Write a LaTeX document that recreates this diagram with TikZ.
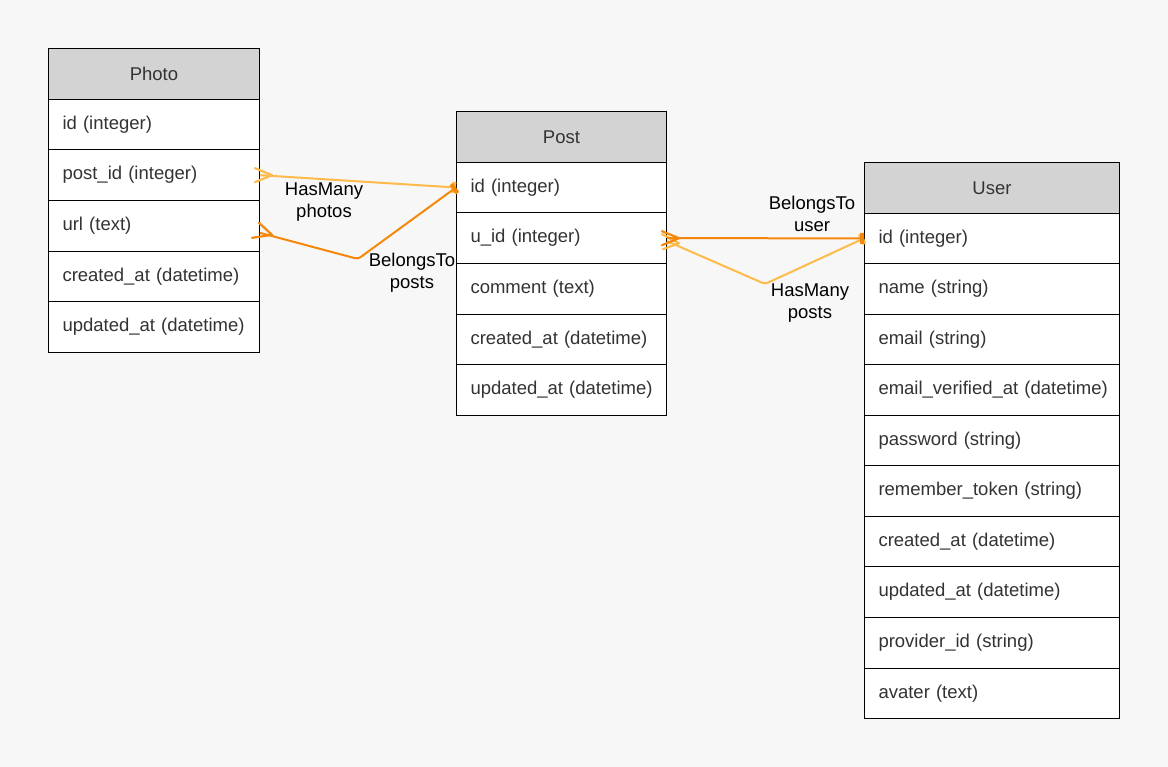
\documentclass[tikz,border=0pt]{standalone}
\usepackage{fontspec}
\setmainfont{Liberation Sans}
\usetikzlibrary{arrows.meta,calc}
\definecolor{bg}{HTML}{F7F7F7}
\definecolor{hdrfill}{HTML}{D3D3D3}
\definecolor{txt}{HTML}{333333}
\definecolor{lightor}{HTML}{FCBB4A}
\definecolor{darkor}{HTML}{F5870A}
\tikzset{
  fld/.style={draw=black, fill=white, line width=1pt, minimum height=50.67pt,
    anchor=north west, inner xsep=14pt, inner ysep=0pt, align=left, text=txt,
    font=\fontsize{18.5}{20}\selectfont},
  hdr/.style={fld, fill=hdrfill, align=center},
  lbl/.style={align=center, text=black, font=\fontsize{18.5}{22}\selectfont, inner sep=0pt},
  lo/.style={draw=lightor, line width=2pt, rounded corners=3pt},
  dk/.style={draw=darkor, line width=2pt, rounded corners=3pt},
  sq/.style={-{Rectangle[length=4pt,width=11pt]}},
  crow/.style={line width=2.2pt, rounded corners=0pt, line join=round, line cap=round},
}
\begin{document}
\begin{tikzpicture}[x=1pt,y=-1pt]
\fill[bg] (0,0) rectangle (1168,767);
\useasboundingbox (0,0) rectangle (1168,767);

% Photo table
\node[hdr, text width=183pt] (photo-0) at (48,48) {Photo};
\foreach \t [count=\i] in {id (integer), post\_id (integer), url (text), created\_at (datetime), updated\_at (datetime)}
  \node[fld, text width=183pt] (photo-\i) at (48,48+\i*50.67) {\mbox{\t}};

% Post table
\node[hdr, text width=182pt] (post-0) at (456,111) {Post};
\foreach \t [count=\i] in {id (integer), u\_id (integer), comment (text), created\_at (datetime), updated\_at (datetime)}
  \node[fld, text width=182pt] (post-\i) at (456,111+\i*50.67) {\mbox{\t}};

% User table
\node[hdr, text width=227pt, minimum height=50.55pt] (user-0) at (864,162) {User};
\foreach \t [count=\i] in {id (integer), name (string), email (string), email\_verified\_at (datetime), password (string), remember\_token (string), created\_at (datetime), updated\_at (datetime), provider\_id (string), avater (text)}
  \node[fld, text width=227pt, minimum height=50.55pt] (user-\i) at (864,162+\i*50.55) {\mbox{\t}};

% connection points
\coordinate (pA) at (photo-2.east);
\coordinate (pB) at ([yshift=-7pt]photo-3.east);
\coordinate (bend1) at (358,259);
\coordinate (qA) at (post-2.east);
\coordinate (qB) at ([yshift=-3pt]post-2.east);
\coordinate (bend2) at (765,284);

% HasMany photos
\draw[lo, sq] (pA) -- (post-1.west);
\draw[lo, crow] ($(pA)+(-5,-7)$) -- ($(pA)+(12,0)$) -- ($(pA)+(-5,7)$);

% BelongsTo posts
\draw[dk, sq] (pB) -- (bend1) -- (post-1.west);
\draw[dk, crow] ($(pB)+(-1,-10)$) -- ($(pB)+(12,2)$) -- ($(pB)+(-8,5)$);

% HasMany posts
\draw[lo, sq] (qB) -- (bend2) -- (user-1.west);
\draw[lo, crow] ($(qB)+(-5,-7)$) -- ($(qB)+(12,2)$) -- ($(qB)+(-4,8)$);

% BelongsTo user
\draw[dk, sq] (qA) -- (user-1.west);
\draw[dk, crow] ($(qA)+(-5,-7)$) -- ($(qA)+(12,0)$) -- ($(qA)+(-5,7)$);

% labels
\node[lbl] (l1) at (324,202) {HasMany\\photos};
\node[lbl] (l2) at (412,273) {BelongsTo\\posts};
\node[lbl] (l3) at (812,214) {BelongsTo\\user};
\node[lbl] (l4) at (810,303) {HasMany\\posts};
\end{tikzpicture}
\end{document}
